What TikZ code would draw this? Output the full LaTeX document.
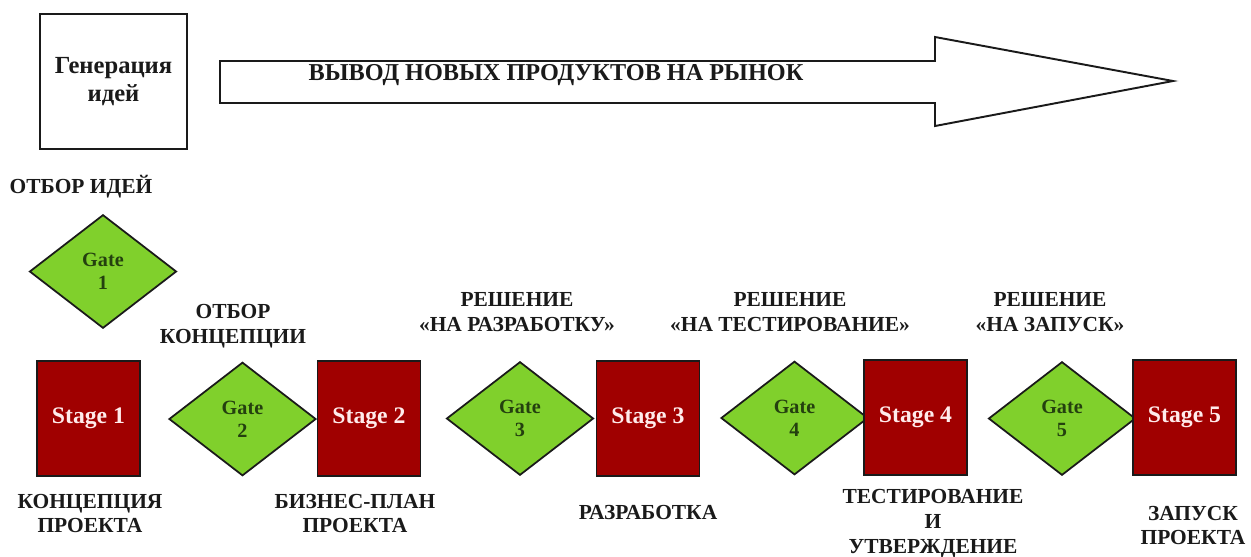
\documentclass[tikz,border=0pt]{standalone}
\usepackage{fontspec}
\setmainfont{Liberation Serif}
\usetikzlibrary{shapes.geometric}
\definecolor{stagered}{HTML}{A00000}
\definecolor{gategreen}{HTML}{80D02C}
\definecolor{gatetext}{HTML}{24400F}
\definecolor{ink}{HTML}{1A1A1A}
\begin{document}
\begin{tikzpicture}[x=0.02cm,y=-0.02cm,
  stagebox/.style={draw=ink, line width=1pt, fill=stagered, minimum width=2.06cm, minimum height=2.3cm, inner sep=0pt, text=white!92!red, font=\fontsize{13.5}{16}\selectfont\bfseries},
  gatebox/.style={diamond, draw=ink, line width=1pt, fill=gategreen, minimum width=2.94cm, minimum height=2.27cm, inner sep=0pt, align=center, text=gatetext, font=\fontsize{11.5}{13}\selectfont\bfseries},
  lbl/.style={align=center, text=ink, font=\fontsize{12.2}{14.2}\selectfont\bfseries},
  genbox/.style={draw=ink, line width=1.1pt, fill=white, minimum width=2.94cm, minimum height=2.7cm, inner sep=0pt, align=center, text=ink, font=\fontsize{14}{15.5}\selectfont\bfseries}]
\useasboundingbox (0,0) rectangle (1251,556);
\fill[white] (0,0) rectangle (1251,556);

% idea generation
\node[genbox] (gen) at (113.5,81.5) {Генерация\\идей};

% big arrow
\coordinate (a1) at (220,61);
\coordinate (a2) at (935,61);
\coordinate (a3) at (935,37);
\coordinate (a4) at (1173,81);
\coordinate (a5) at (935,126);
\coordinate (a6) at (935,103);
\coordinate (a7) at (220,103);
\draw[ink, line width=1.1pt, fill=white, line join=miter] (a1) -- (a2) -- (a3) -- (a4) -- (a5) -- (a6) -- (a7) -- cycle;
\node[lbl, font=\fontsize{13.8}{15}\selectfont\bfseries] (arrowtext) at (556,75) {ВЫВОД НОВЫХ ПРОДУКТОВ НА РЫНОК};

% gate 1
\node[lbl] (l0) at (81,187) {ОТБОР ИДЕЙ};
\node[gatebox] (g1) at (103,271.5) {Gate\\1};

% stages and gates
\node[stagebox] (s1) at (88.5,418.5) {Stage 1};
\node[gatebox] (g2) at (242.5,419) {Gate\\2};
\node[stagebox] (s2) at (369,418.5) {Stage 2};
\node[gatebox] (g3) at (520,418.5) {Gate\\3};
\node[stagebox] (s3) at (648,418.5) {Stage 3};
\node[gatebox] (g4) at (794.5,418) {Gate\\4};
\node[stagebox] (s4) at (915.5,417.5) {Stage 4};
\node[gatebox] (g5) at (1062,418.5) {Gate\\5};
\node[stagebox] (s5) at (1184.5,417.5) {Stage 5};

% labels above gates
\node[lbl] (l2) at (233,326) {ОТБОР\\КОНЦЕПЦИИ};
\node[lbl] (l3) at (517,312) {РЕШЕНИЕ\\«НА РАЗРАБОТКУ»};
\node[lbl] (l4) at (790,312) {РЕШЕНИЕ\\«НА ТЕСТИРОВАНИЕ»};
\node[lbl] (l5) at (1050,312) {РЕШЕНИЕ\\«НА ЗАПУСК»};

% labels below stages
\node[lbl] (b1) at (90,513.5) {КОНЦЕПЦИЯ\\ПРОЕКТА};
\node[lbl] (b2) at (355,513.5) {БИЗНЕС-ПЛАН\\ПРОЕКТА};
\node[lbl] (b3) at (648,512) {РАЗРАБОТКА};
\node[lbl] (b4) at (933,524) {ТЕСТИРОВАНИЕ\\И\\УТВЕРЖДЕНИЕ};
\node[lbl] (b5) at (1193,525.5) {ЗАПУСК\\ПРОЕКТА};
\end{tikzpicture}
\end{document}
